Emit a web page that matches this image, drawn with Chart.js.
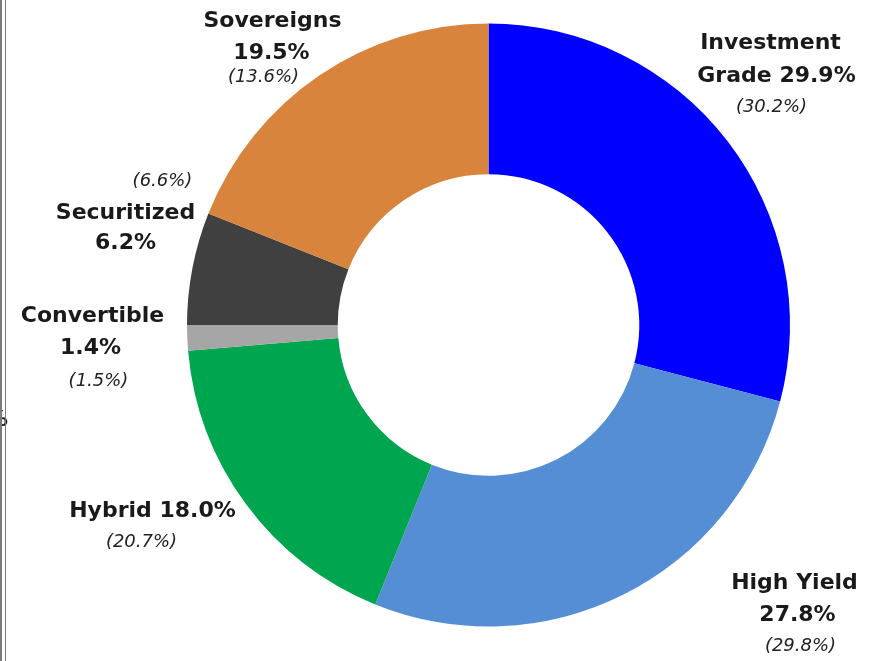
<!DOCTYPE html>
<html>
<head>
<meta charset="utf-8">
<script src="https://cdn.jsdelivr.net/npm/chart.js@4/dist/chart.umd.min.js"></script>
<style>
  html, body { margin: 0; padding: 0; background: #ffffff; }
  #wrap { position: relative; width: 876px; height: 661px; overflow: hidden; background: #fff; }
  canvas { position: absolute; left: 0; top: 0; }
  .vline { position: absolute; top: 0; height: 661px; background: #7a7a7a; }
</style>
</head>
<body>
<div id="wrap">
  <canvas id="c" width="876" height="661"></canvas>
  <div class="vline" style="left:0px; width:2px"></div>
  <div class="vline" style="left:5px; width:1px"></div>
</div>
<script>
// ---- data ----
const categories = ["Investment Grade", "High Yield", "Hybrid", "Convertible", "Securitized", "Sovereigns"];
const currentValues = [29.9, 27.8, 18.0, 1.4, 6.2, 19.5];
const priorValues = [30.2, 29.8, 20.7, 1.5, 6.6, 13.6];
const sliceColors = ["#0000FF", "#558ED5", "#00A54F", "#A6A6A6", "#404040", "#D9843C"];

// ---- label layout (offsets from chart centre, px); {v} = current, {p} = prior ----
const labelLayout = [
  { lines: [["b", "Investment", 282, -276], ["b", "Grade {v}", 288, -243], ["i", "({p})", 283, -213]] },
  { lines: [["b", "High Yield", 306, 264], ["b", "{v}", 309, 296], ["i", "({p})", 312, 326]] },
  { lines: [["b", "Hybrid {v}", -336, 192], ["i", "({p})", -347, 222]] },
  { lines: [["b", "Convertible", -396, -3], ["b", "{v}", -398, 29], ["i", "({p})", -390, 61]] },
  { lines: [["i", "({p})", -326, -139], ["b", "Securitized", -363, -106], ["b", "{v}", -363, -76]] },
  { lines: [["b", "Sovereigns", -216, -298], ["b", "{v}", -217, -266], ["i", "({p})", -225, -243]] }
];

const fmt = v => v.toFixed(1) + "%";

const labelPlugin = {
  id: "sliceLabels",
  afterDraw(chart) {
    const ctx = chart.ctx;
    const arc = chart.getDatasetMeta(0).data[0];
    const cx = arc.x, cy = arc.y;
    ctx.save();
    ctx.textAlign = "center";
    ctx.textBaseline = "alphabetic";
    labelLayout.forEach((item, i) => {
      item.lines.forEach(([kind, tpl, dx, dy]) => {
        const txt = tpl.replace("{v}", fmt(currentValues[i])).replace("{p}", fmt(priorValues[i]));
        if (kind === "b") {
          ctx.font = "bold 22px 'DejaVu Sans'";
          ctx.fillStyle = "#1a1a1a";
        } else {
          ctx.font = "oblique 18px 'DejaVu Sans'";
          ctx.fillStyle = "#222222";
        }
        ctx.fillText(txt, cx + dx, cy + dy);
      });
    });
    // clipped fragment at the far left edge
    ctx.font = "bold 22px 'DejaVu Sans'";
    ctx.fillStyle = "#1a1a1a";
    ctx.textAlign = "left";
    ctx.fillText("%", -14, 426);
    ctx.restore();
  }
};

new Chart(document.getElementById("c"), {
  type: "doughnut",
  data: {
    labels: categories,
    datasets: [{
      data: currentValues,
      backgroundColor: sliceColors,
      borderWidth: 0,
      hoverOffset: 0
    }]
  },
  options: {
    responsive: false,
    animation: false,
    cutout: "50%",
    layout: { padding: { left: 101, right: 0, top: 23.5, bottom: 34.5 } },
    plugins: {
      legend: { display: false },
      tooltip: { enabled: false }
    }
  },
  plugins: [labelPlugin]
});
</script>
</body>
</html>
